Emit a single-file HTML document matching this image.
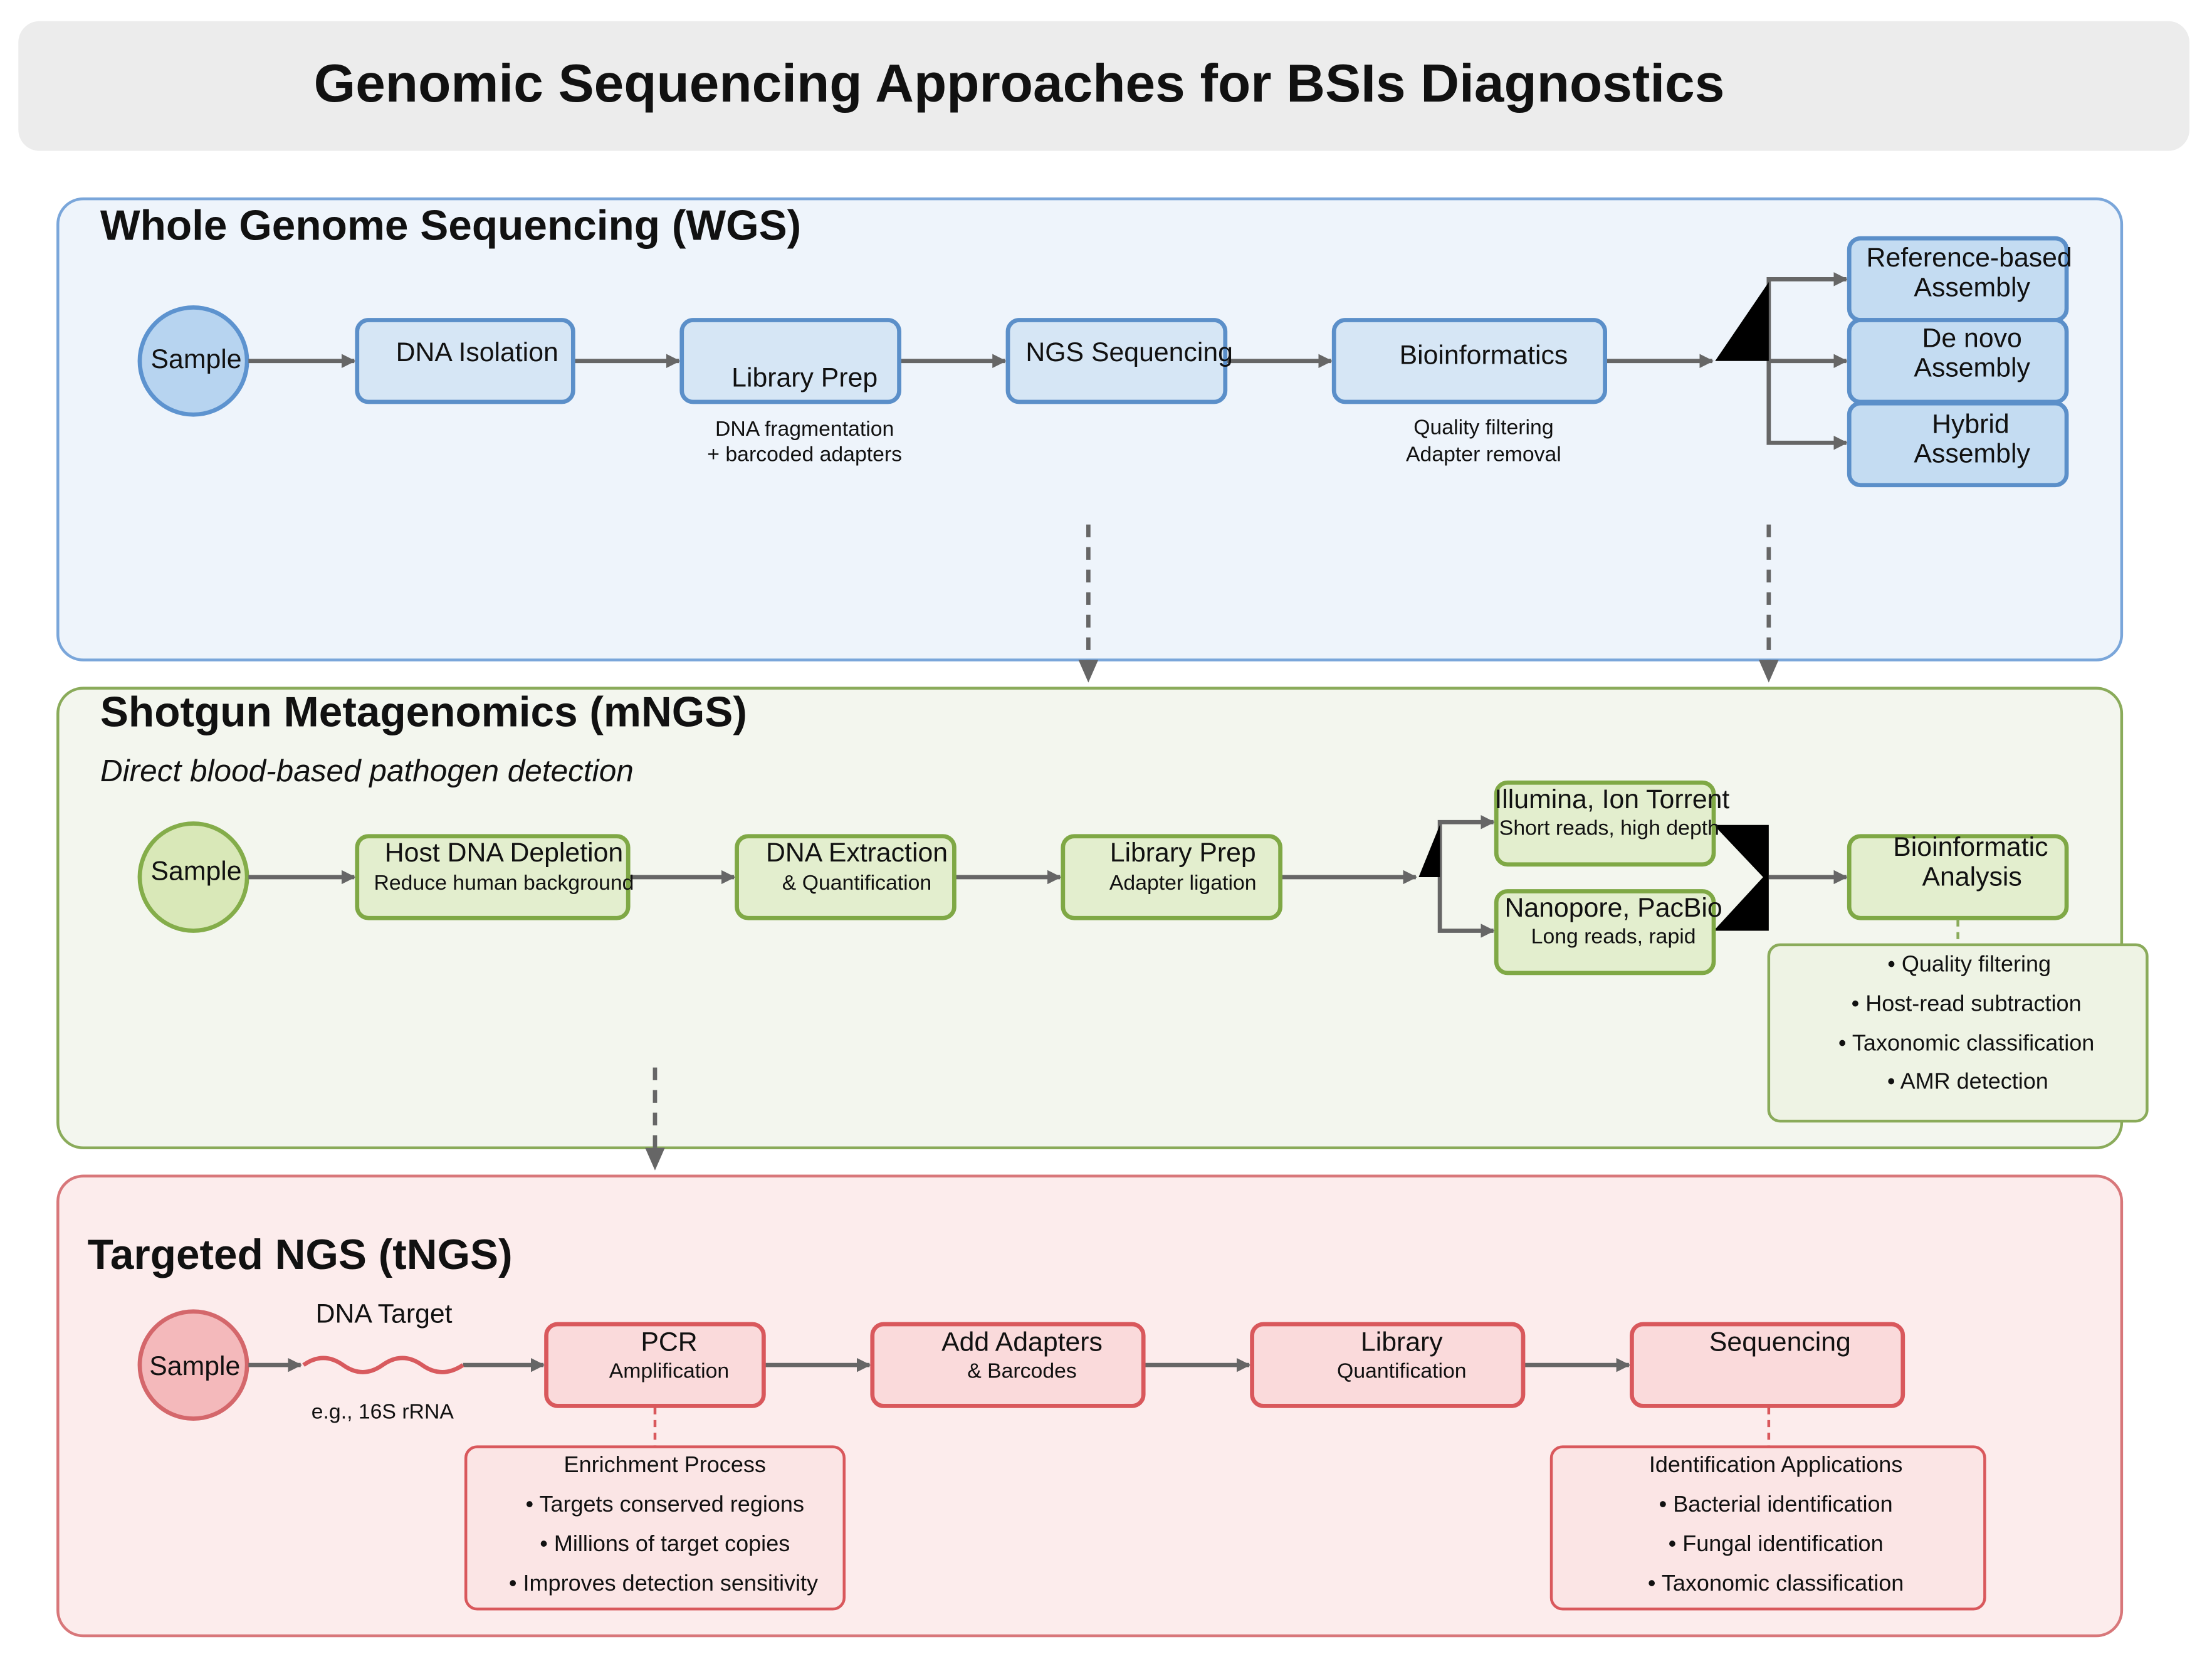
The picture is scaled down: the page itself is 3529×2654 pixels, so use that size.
<!DOCTYPE html>
<html><head><meta charset="utf-8"><style>
html,body{margin:0;padding:0;background:#fff;}
svg{display:block;}
text{font-family:"Liberation Sans",Arial,sans-serif;fill:#111;}
</style></head><body>
<svg width="3529" height="2654" viewBox="0 0 1567 1180" preserveAspectRatio="none" xmlns="http://www.w3.org/2000/svg">
<defs>
<marker id="ah" markerWidth="10" markerHeight="10" refX="9" refY="5" orient="auto" markerUnits="userSpaceOnUse">
<path d="M0,0 L10,5 L0,10 z" fill="#666"/></marker>
</defs>
<rect width="1567" height="1180" fill="#fff"/>
<!-- Title -->
<rect x="13" y="15" width="1538" height="92" rx="15" fill="#ececec"/>
<text x="722" y="72" font-size="38" font-weight="bold" text-anchor="middle">Genomic Sequencing Approaches for BSIs Diagnostics</text>

<!-- WGS -->
<rect x="41" y="141" width="1462" height="327" rx="18" fill="#eef4fb" stroke="#7aa6da" stroke-width="2"/>
<text x="71" y="170" font-size="30" font-weight="bold">Whole Genome Sequencing (WGS)</text>
<circle cx="137" cy="256" r="38" fill="#b7d4f0" stroke="#5d93cf" stroke-width="3"/>
<text x="139" y="256" font-size="19" text-anchor="middle" dominant-baseline="middle">Sample</text>
<g stroke="#666" stroke-width="3" fill="none" marker-end="url(#ah)">
<line x1="176" y1="256" x2="251" y2="256"/>
<line x1="407" y1="256" x2="481" y2="256"/>
<line x1="638" y1="256" x2="712" y2="256"/>
<line x1="869" y1="256" x2="943" y2="256"/>
<line x1="1138" y1="256" x2="1213" y2="256"/>
<polyline points="1253,256 1253,198 1308,198"/>
<line x1="1253" y1="256" x2="1308" y2="256"/>
<polyline points="1253,256 1253,314 1308,314"/>
</g>
<polygon points="1215,256 1253,200 1253,256" fill="#000"/>
<g fill="#d6e6f5" stroke="#5b8fc9" stroke-width="3">
<rect x="253" y="227" width="153" height="58" rx="8"/>
<rect x="483" y="227" width="154" height="58" rx="8"/>
<rect x="714" y="227" width="154" height="58" rx="8"/>
<rect x="945" y="227" width="192" height="58" rx="8"/>
</g>
<g fill="#c4dcf2" stroke="#5b8fc9" stroke-width="3">
<rect x="1310" y="169" width="154" height="58" rx="8"/>
<rect x="1310" y="227" width="154" height="58" rx="8"/>
<rect x="1310" y="286" width="154" height="58" rx="8"/>
</g>
<g font-size="19" text-anchor="middle">
<text x="338" y="256">DNA Isolation</text>
<text x="570" y="274">Library Prep</text>
<text x="800" y="256">NGS Sequencing</text>
<text x="1051" y="258">Bioinformatics</text>
<text x="1395" y="189">Reference-based</text><text x="1397" y="210">Assembly</text>
<text x="1397" y="246">De novo</text><text x="1397" y="267">Assembly</text>
<text x="1396" y="307">Hybrid</text><text x="1397" y="328">Assembly</text>
</g>
<g font-size="15" text-anchor="middle">
<text x="570" y="309">DNA fragmentation</text><text x="570" y="327">+ barcoded adapters</text>
<text x="1051" y="308">Quality filtering</text><text x="1051" y="327">Adapter removal</text>
</g>
<g stroke="#666" stroke-width="3" stroke-dasharray="9,7" fill="none">
<line x1="771" y1="372" x2="771" y2="470"/>
<line x1="1253" y1="372" x2="1253" y2="470"/>
</g>
<polygon points="764,468 778,468 771,484" fill="#666"/>
<polygon points="1246,468 1260,468 1253,484" fill="#666"/>

<!-- mNGS -->
<rect x="41" y="488" width="1462" height="326" rx="18" fill="#f3f6ee" stroke="#8aab5a" stroke-width="2"/>
<text x="71" y="515" font-size="30" font-weight="bold">Shotgun Metagenomics (mNGS)</text>
<text x="71" y="554" font-size="22" font-style="italic">Direct blood-based pathogen detection</text>
<circle cx="137" cy="622" r="38" fill="#d9e8b8" stroke="#84ad4a" stroke-width="3"/>
<text x="139" y="619" font-size="19" text-anchor="middle" dominant-baseline="middle">Sample</text>
<g stroke="#666" stroke-width="3" fill="none" marker-end="url(#ah)">
<line x1="176" y1="622" x2="251" y2="622"/>
<line x1="446" y1="622" x2="520" y2="622"/>
<line x1="677" y1="622" x2="751" y2="622"/>
<line x1="908" y1="622" x2="1003" y2="622"/>
<polyline points="1020,622 1020,583 1058,583"/>
<polyline points="1020,622 1020,660 1058,660"/>
<line x1="1253" y1="622" x2="1308" y2="622"/>
</g>
<polygon points="1005,622 1020,585 1020,622" fill="#000"/>
<polygon points="1214,585 1253,585 1253,660 1214,660 1249,622" fill="#000"/>
<g fill="#e3eece" stroke="#7fa845" stroke-width="3">
<rect x="253" y="593" width="192" height="58" rx="8"/>
<rect x="522" y="593" width="154" height="58" rx="8"/>
<rect x="753" y="593" width="154" height="58" rx="8"/>
<rect x="1060" y="555" width="154" height="58" rx="8"/>
<rect x="1060" y="632" width="154" height="58" rx="8"/>
<rect x="1310" y="593" width="154" height="58" rx="8"/>
</g>
<g font-size="19" text-anchor="middle">
<text x="357" y="611">Host DNA Depletion</text>
<text x="607" y="611">DNA Extraction</text>
<text x="838" y="611">Library Prep</text>
<text x="1142" y="573">Illumina, Ion Torrent</text>
<text x="1143" y="650">Nanopore, PacBio</text>
<text x="1396" y="607">Bioinformatic</text><text x="1397" y="628">Analysis</text>
</g>
<g font-size="15" text-anchor="middle">
<text x="357" y="631">Reduce human background</text>
<text x="607" y="631">&amp; Quantification</text>
<text x="838" y="631">Adapter ligation</text>
<text x="1140" y="592">Short reads, high depth</text>
<text x="1143" y="669">Long reads, rapid</text>
</g>
<line x1="1387" y1="652" x2="1387" y2="670" stroke="#8aab5a" stroke-width="2" stroke-dasharray="5,4"/>
<rect x="1253" y="670" width="268" height="125" rx="8" fill="#eef3e4" stroke="#8aab5a" stroke-width="2"/>
<g font-size="16" text-anchor="middle">
<text x="1395" y="689">• Quality filtering</text>
<text x="1393" y="717">• Host-read subtraction</text>
<text x="1393" y="745">• Taxonomic classification</text>
<text x="1394" y="772">• AMR detection</text>
</g>
<line x1="464" y1="757" x2="464" y2="816" stroke="#666" stroke-width="3" stroke-dasharray="9,7"/>
<polygon points="457,814 471,814 464,830" fill="#666"/>

<!-- tNGS -->
<rect x="41" y="834" width="1462" height="326" rx="18" fill="#fcecec" stroke="#d8777a" stroke-width="2"/>
<text x="62" y="900" font-size="30" font-weight="bold">Targeted NGS (tNGS)</text>
<circle cx="137" cy="968" r="38" fill="#f4b9bb" stroke="#d4676b" stroke-width="3"/>
<text x="138" y="970" font-size="19" text-anchor="middle" dominant-baseline="middle">Sample</text>
<g stroke="#666" stroke-width="3" fill="none" marker-end="url(#ah)">
<line x1="176" y1="968" x2="213" y2="968"/>
<line x1="328" y1="968" x2="385" y2="968"/>
<line x1="542" y1="968" x2="616" y2="968"/>
<line x1="811" y1="968" x2="885" y2="968"/>
<line x1="1080" y1="968" x2="1154" y2="968"/>
</g>
<path d="M215,968 Q229,958 243,968 T271,968 T299,968 T328,968" fill="none" stroke="#d85a5e" stroke-width="3"/>
<text x="272" y="938" font-size="19" text-anchor="middle">DNA Target</text>
<text x="271" y="1006" font-size="15" text-anchor="middle">e.g., 16S rRNA</text>
<g fill="#fadadb" stroke="#d9585c" stroke-width="3">
<rect x="387" y="939" width="154" height="58" rx="8"/>
<rect x="618" y="939" width="192" height="58" rx="8"/>
<rect x="887" y="939" width="192" height="58" rx="8"/>
<rect x="1156" y="939" width="192" height="58" rx="8"/>
</g>
<g font-size="19" text-anchor="middle">
<text x="474" y="958">PCR</text>
<text x="724" y="958">Add Adapters</text>
<text x="993" y="958">Library</text>
<text x="1261" y="958">Sequencing</text>
</g>
<g font-size="15" text-anchor="middle">
<text x="474" y="977">Amplification</text>
<text x="724" y="977">&amp; Barcodes</text>
<text x="993" y="977">Quantification</text>
</g>
<g stroke="#d9585c" stroke-width="2" stroke-dasharray="5,4">
<line x1="464" y1="998" x2="464" y2="1026"/>
<line x1="1253" y1="998" x2="1253" y2="1026"/>
</g>
<rect x="330" y="1026" width="268" height="115" rx="8" fill="#fbe5e5" stroke="#d9585c" stroke-width="2"/>
<rect x="1099" y="1026" width="307" height="115" rx="8" fill="#fbe5e5" stroke="#d9585c" stroke-width="2"/>
<g font-size="16" text-anchor="middle">
<text x="471" y="1044">Enrichment Process</text>
<text x="471" y="1072">• Targets conserved regions</text>
<text x="471" y="1100">• Millions of target copies</text>
<text x="470" y="1128">• Improves detection sensitivity</text>
<text x="1258" y="1044">Identification Applications</text>
<text x="1258" y="1072">• Bacterial identification</text>
<text x="1258" y="1100">• Fungal identification</text>
<text x="1258" y="1128">• Taxonomic classification</text>
</g>
</svg>
</body></html>
